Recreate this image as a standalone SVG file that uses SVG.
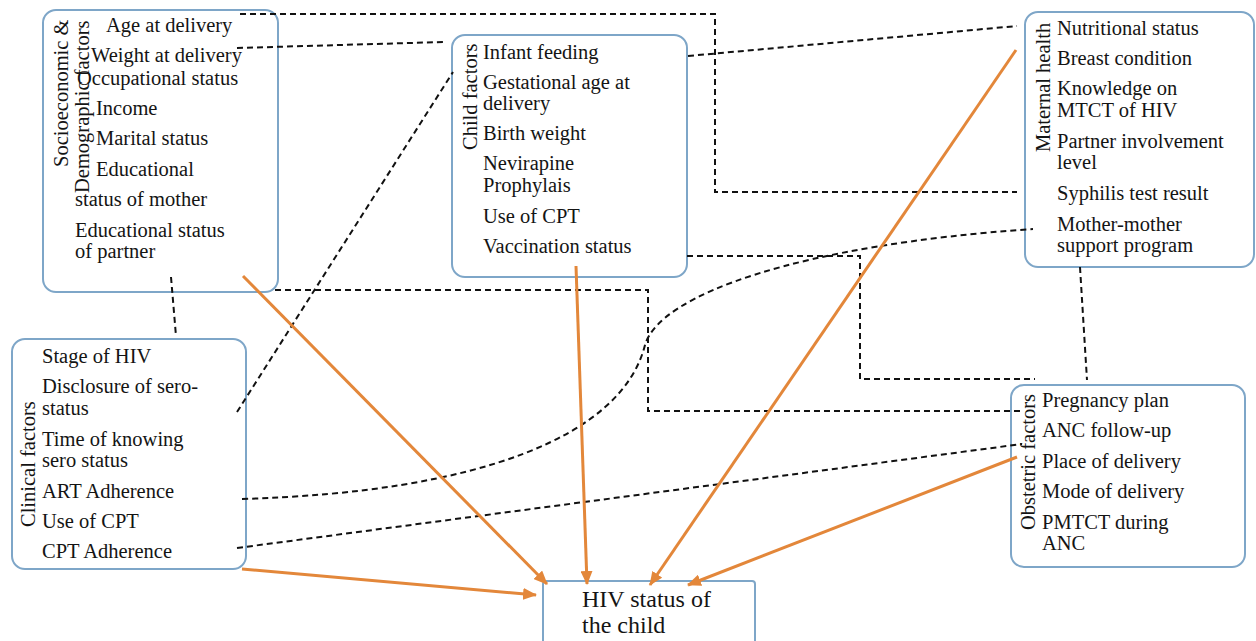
<svg xmlns="http://www.w3.org/2000/svg" width="1256" height="641" viewBox="0 0 1256 641">
<defs>
<style>
.box{fill:#fff;stroke:#7ea6c8;stroke-width:2}
.t{font-family:"Liberation Serif","Times New Roman",serif;font-size:20.5px;fill:#141414}
.big{font-size:24px}
.dash{fill:none;stroke:#111;stroke-width:2;stroke-dasharray:6 4}
.arr{fill:none;stroke:#e3873a;stroke-width:3}
</style>
<marker id="ah" markerUnits="userSpaceOnUse" markerWidth="14" markerHeight="12" refX="13" refY="6" orient="auto">
<path d="M0,0 L14,6 L0,12 z" fill="#e3873a"/>
</marker>
</defs>
<rect width="1256" height="641" fill="#fff"/>

<g id="socio">
<rect class="box" x="43" y="10" width="235" height="282" rx="13"/>
<text class="t" transform="translate(68,167) rotate(-90)">Socioeconomic &amp;</text>
<text class="t" transform="translate(89,193) rotate(-90)">Demographic factors</text>
<text class="t" x="106" y="32">Age at delivery</text>
<text class="t" x="91" y="62">Weight at delivery</text>
<text class="t" x="77" y="85">Occupational status</text>
<text class="t" x="96" y="115">Income</text>
<text class="t" x="96" y="145">Marital status</text>
<text class="t" x="96" y="176">Educational</text>
<text class="t" x="75" y="206">status of mother</text>
<text class="t" x="75" y="237">Educational status</text>
<text class="t" x="75" y="258">of partner</text>
</g>

<g id="child">
<rect class="box" x="452" y="35" width="235" height="242" rx="13"/>
<text class="t" transform="translate(477,150) rotate(-90)">Child factors</text>
<text class="t" x="483" y="59">Infant feeding</text>
<text class="t" x="483" y="89">Gestational age at</text>
<text class="t" x="483" y="110">delivery</text>
<text class="t" x="483" y="140">Birth weight</text>
<text class="t" x="483" y="170">Nevirapine</text>
<text class="t" x="483" y="192">Prophylais</text>
<text class="t" x="483" y="223">Use of CPT</text>
<text class="t" x="483" y="253">Vaccination status</text>
</g>

<g id="maternal">
<rect class="box" x="1025" y="12" width="229" height="255" rx="13"/>
<text class="t" transform="translate(1050,152) rotate(-90)">Maternal health</text>
<text class="t" x="1057" y="35">Nutritional status</text>
<text class="t" x="1057" y="65">Breast condition</text>
<text class="t" x="1057" y="95">Knowledge on</text>
<text class="t" x="1057" y="117">MTCT of HIV</text>
<text class="t" x="1057" y="148">Partner involvement</text>
<text class="t" x="1057" y="169">level</text>
<text class="t" x="1057" y="200">Syphilis test result</text>
<text class="t" x="1057" y="231">Mother-mother</text>
<text class="t" x="1057" y="252">support program</text>
</g>

<g id="clinical">
<rect class="box" x="12" y="339" width="234" height="230" rx="13"/>
<text class="t" transform="translate(35,527) rotate(-90)">Clinical factors</text>
<text class="t" x="42" y="363">Stage of HIV</text>
<text class="t" x="42" y="393">Disclosure of sero-</text>
<text class="t" x="42" y="415">status</text>
<text class="t" x="42" y="446">Time of knowing</text>
<text class="t" x="42" y="467">sero status</text>
<text class="t" x="42" y="498">ART Adherence</text>
<text class="t" x="42" y="528">Use of CPT</text>
<text class="t" x="42" y="558">CPT Adherence</text>
</g>

<g id="obstetric">
<rect class="box" x="1011" y="385" width="234" height="182" rx="13"/>
<text class="t" transform="translate(1035,530) rotate(-90)">Obstetric factors</text>
<text class="t" x="1042" y="407">Pregnancy plan</text>
<text class="t" x="1042" y="437">ANC follow-up</text>
<text class="t" x="1042" y="468">Place of delivery</text>
<text class="t" x="1042" y="498">Mode of delivery</text>
<text class="t" x="1042" y="529">PMTCT during</text>
<text class="t" x="1042" y="550">ANC</text>
</g>

<g id="hiv">
<rect class="box" x="543" y="581" width="212" height="80" rx="3"/>
<text class="t big" x="582" y="607">HIV status of</text>
<text class="t big" x="582" y="633">the child</text>
</g>

<g id="connectors">
<path class="dash" d="M240,14 H715 V192 H1017"/>
<path class="dash" d="M237,48 L443,42"/>
<path class="dash" d="M688,56 L1017,26"/>
<path class="dash" d="M237,412 L453,72"/>
<path class="dash" d="M171,277 L176,336"/>
<path class="dash" d="M275,290 H648 V411 H1020"/>
<path class="dash" d="M687,256 H860 V379 H1035"/>
<path class="dash" d="M1080,267 L1087,380"/>
<path class="dash" d="M242,499 C480,492 622,436 645,345 C660,294 800,245 1033,229"/>
<path class="dash" d="M237,548 L1022,444"/>
<path class="arr" d="M243,276 L547,584" marker-end="url(#ah)"/>
<path class="arr" d="M576,266 L587,584" marker-end="url(#ah)"/>
<path class="arr" d="M1016,50 L650,585" marker-end="url(#ah)"/>
<path class="arr" d="M1017,457 L688,585" marker-end="url(#ah)"/>
<path class="arr" d="M242,569 L536,595" marker-end="url(#ah)"/>
</g>
</svg>
